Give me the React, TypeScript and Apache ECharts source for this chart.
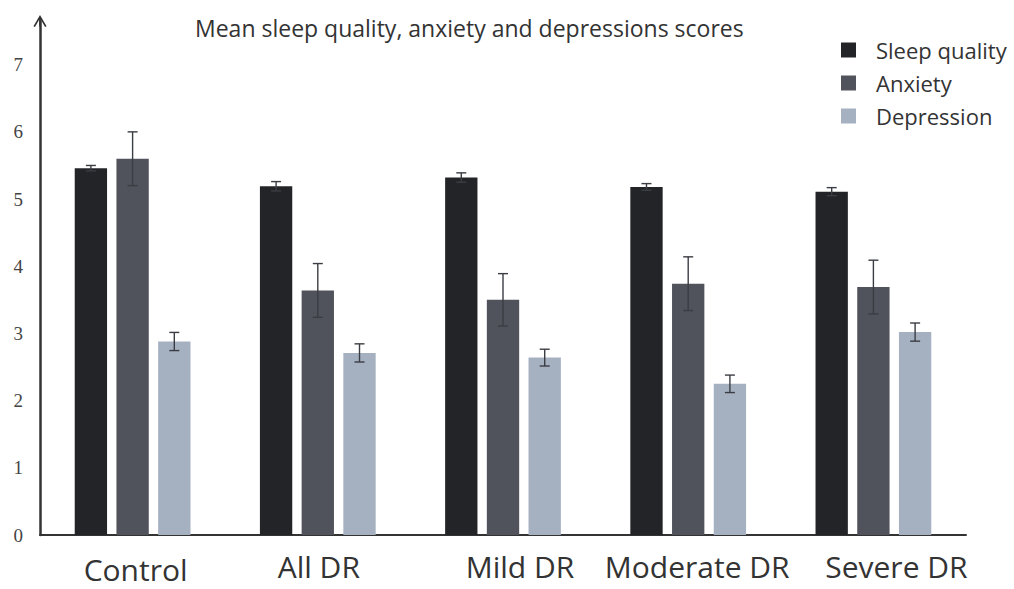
import React, { useEffect, useRef } from "react";
import * as echarts from "echarts";

const categories = ["Control", "All DR", "Mild DR", "Moderate DR", "Severe DR"];
const seriesNames = ["Sleep quality", "Anxiety", "Depression"];
const sleepQuality = [5.46, 5.19, 5.32, 5.18, 5.11];
const sleepQualityErr = [0.04, 0.07, 0.07, 0.05, 0.06];
const anxiety = [5.6, 3.64, 3.5, 3.74, 3.69];
const anxietyErr = [0.4, 0.4, 0.39, 0.4, 0.4];
const depression = [2.88, 2.71, 2.64, 2.25, 3.02];
const depressionErr = [0.135, 0.135, 0.125, 0.13, 0.135];
const yTickLabels = [0, 1, 2, 3, 4, 5, 6, 7];
const titleText = "Mean sleep quality, anxiety and depressions scores";

const colors = ["#232427", "#50535b", "#a5b0c1"];
const labelPads = [
  [7, 0, 0, 6],
  [0, 0, 0, 2],
  [0, 0, 0, 34],
  [0, 0, 0, 18],
  [0, 0, 0, 46],
];
const CAT_GAP = 0.375;
const BAR_GAP = 0.29;
const FONT = "'Open Sans', sans-serif";

function errSeries(idx: number, values: number[], errs: number[]) {
  return {
    type: "custom",
    data: values.map((v, i) => [i, v, errs[i]]),
    encode: { x: 0, y: 1 },
    z: 10,
    silent: true,
    renderItem: (params: any, api: any) => {
      const ci = api.value(0);
      const v = api.value(1);
      const e = api.value(2);
      const band = api.size([1, 0])[0];
      const total = band * (1 - CAT_GAP);
      const bw = total / (3 + 2 * BAR_GAP);
      const base = api.coord([ci, v]);
      const x = base[0] - total / 2 + idx * bw * (1 + BAR_GAP) + bw / 2;
      const top = api.coord([ci, v + e])[1];
      const bot = api.coord([ci, v - e])[1];
      const cap = 5;
      const style = { stroke: "#3b3d44", lineWidth: 1.4 };
      return {
        type: "group",
        children: [
          { type: "line", shape: { x1: x, y1: top, x2: x, y2: bot }, style },
          { type: "line", shape: { x1: x - cap, y1: top, x2: x + cap, y2: top }, style },
          { type: "line", shape: { x1: x - cap, y1: bot, x2: x + cap, y2: bot }, style },
        ],
      };
    },
  };
}

export default function App() {
  const ref = useRef<HTMLDivElement>(null);
  useEffect(() => {
    document.body.style.margin = "0";
    const chart = echarts.init(ref.current!, undefined, { renderer: "svg" });
    const barData = [sleepQuality, anxiety, depression];
    const errData = [sleepQualityErr, anxietyErr, depressionErr];
    const rich: Record<string, any> = {};
    labelPads.forEach((p, i) => {
      rich["c" + i] = { fontFamily: FONT, fontSize: 30, lineHeight: 30, color: "#333", padding: p };
    });
    chart.setOption({
      animation: false,
      backgroundColor: "#ffffff",
      title: {
        text: titleText,
        left: 190,
        top: 11,
        textStyle: { fontFamily: FONT, fontSize: 23, fontWeight: "normal", color: "#333" },
      },
      legend: {
        data: seriesNames,
        orient: "vertical",
        left: 836,
        top: 34,
        icon: "rect",
        itemWidth: 15,
        itemHeight: 15,
        itemGap: 11,
        textStyle: { fontFamily: FONT, fontSize: 22, color: "#333", padding: [0, 0, 0, 15] },
      },
      grid: { left: 40, right: 48, top: 21, bottom: 54 },
      xAxis: {
        type: "category",
        data: categories,
        axisLine: { lineStyle: { color: "#333", width: 2 } },
        axisTick: { show: false },
        axisLabel: {
          interval: 0,
          hideOverlap: false,
          margin: 16,
          formatter: (v: string, i: number) => `{c${i}|${v}}`,
          rich,
        },
      },
      yAxis: {
        type: "value",
        min: 0,
        max: 7.65,
        interval: 1,
        splitLine: { show: false },
        axisTick: { show: false },
        axisLine: {
          show: true,
          lineStyle: { color: "#333", width: 2.5 },
          symbol: ["none", "path://M0,12 L7,0 L14,12 L12.4,12.8 L7,3.4 L1.6,12.8 Z M6.1,2 L7.9,2 L7.9,12 L6.1,12 Z"],
          symbolSize: [14, 12],
        },
        axisLabel: {
          fontFamily: "'Liberation Serif', 'DejaVu Serif', serif",
          fontSize: 19,
          color: "#444",
          margin: 17,
          formatter: (v: number) => (yTickLabels.includes(v) ? String(v) : ""),
        },
      },
      series: [
        ...barData.map((d, i) => ({
          type: "bar",
          name: seriesNames[i],
          data: d,
          barCategoryGap: `${CAT_GAP * 100}%`,
          barGap: `${BAR_GAP * 100}%`,
          itemStyle: { color: colors[i] },
        })),
        ...barData.map((d, i) => errSeries(i, d, errData[i])),
      ],
    });
    return () => chart.dispose();
  }, []);
  return <div ref={ref} style={{ position: "fixed", left: 0, top: 0, width: 1014, height: 589 }} />;
}
